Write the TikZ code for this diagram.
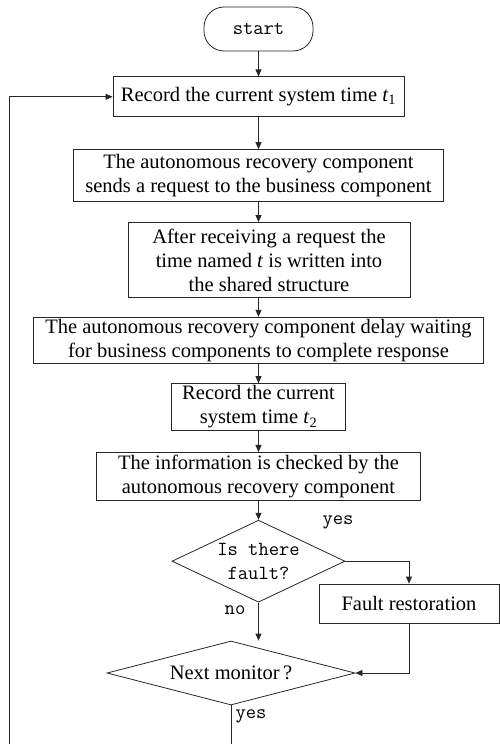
\documentclass[tikz,border=0pt]{standalone}
\usepackage{fontspec}
\setmainfont{Liberation Serif}
\usepackage{tikz}
\usetikzlibrary{arrows.meta,positioning,shapes.geometric}

\begin{document}
\begin{tikzpicture}[
  x=1pt, y=-1pt,
  line width=0.8pt, draw=black!85,
  >={Triangle[length=7pt,width=6pt]},
  proc/.style={draw, align=center, inner sep=2pt, font=\fontsize{20.5}{24}\selectfont},
  term/.style={draw, rounded corners=20pt, font=\fontsize{20}{24}\selectfont\ttfamily, minimum width=109pt, minimum height=44pt},
  cond/.style={draw, diamond, inner sep=0pt},
  lbl/.style={font=\fontsize{20}{24}\selectfont\ttfamily, inner sep=0pt}
]
  \useasboundingbox (0,0) rectangle (500,744);
  \node[term] (start) at (258.5,29) {start};
  \node[proc, below=25pt of start, minimum width=291pt, minimum height=40pt] (rec1) {Record the current system time \textit{t}\textsubscript{1}};
  \node[proc, below=32pt of rec1, minimum width=370pt, minimum height=52pt] (rec2) {The autonomous recovery component\\sends a request to the business component};
  \node[proc, below=20pt of rec2, xshift=10.5pt, minimum width=282pt, minimum height=75pt] (recv) {After receiving a request the\\time named \textit{t} is written into\\the shared structure};
  \node[proc, below=19pt of recv, xshift=-10.5pt, minimum width=450pt, minimum height=46pt] (delay) {The autonomous recovery component delay waiting\\for business components to complete response};
  \node[proc, below=19pt of delay, minimum width=174pt, minimum height=47pt] (rec2t) {Record the current\\system time \textit{t}\textsubscript{2}};
  \node[proc, below=21pt of rec2t, minimum width=324pt, minimum height=48pt] (check) {The information is checked by the\\autonomous recovery component};
  \node[cond, below=19pt of check, minimum width=173pt, minimum height=82pt,
    label={[lbl, align=center]center:{Is there\\fault?}}] (fault) {};
  \node[proc, minimum width=180pt, minimum height=39pt] (restore) at (409,603.5) {Fault restoration};
  \node[cond, minimum width=248pt, minimum height=64pt,
    label={[font=\fontsize{20.5}{24}\selectfont]center:Next monitor\,?}] (next) at (231,673) {};
  \coordinate (loopend) at (9.5,744);

  % branch labels
  \node[lbl] (yesf) at (338,522) {yes};
  \node[lbl] (nof) at (235,610) {no};
  \node[lbl] (yesn) at (251,716) {yes};

  \draw[->] (start) -- (rec1);
  \draw[->] (rec1) -- (rec2);
  \draw[->] (rec2.south) -- (rec2.south |- recv.north);
  \draw[->] (delay.north |- recv.south) -- (delay.north);
  \draw[->] (delay) -- (rec2t);
  \draw[->] (rec2t) -- (check);
  \draw[->] (check) -- (fault);
  \draw[->] (fault.east) -| (restore.north);
  \draw[->] (fault.south) -- (fault.south |- next.north);
  \draw[->] (restore.south) |- (next.east);
  \draw (next.south) -- (next.south |- loopend);
  \draw[->] (loopend) |- (rec1.west);
\end{tikzpicture}
\end{document}
